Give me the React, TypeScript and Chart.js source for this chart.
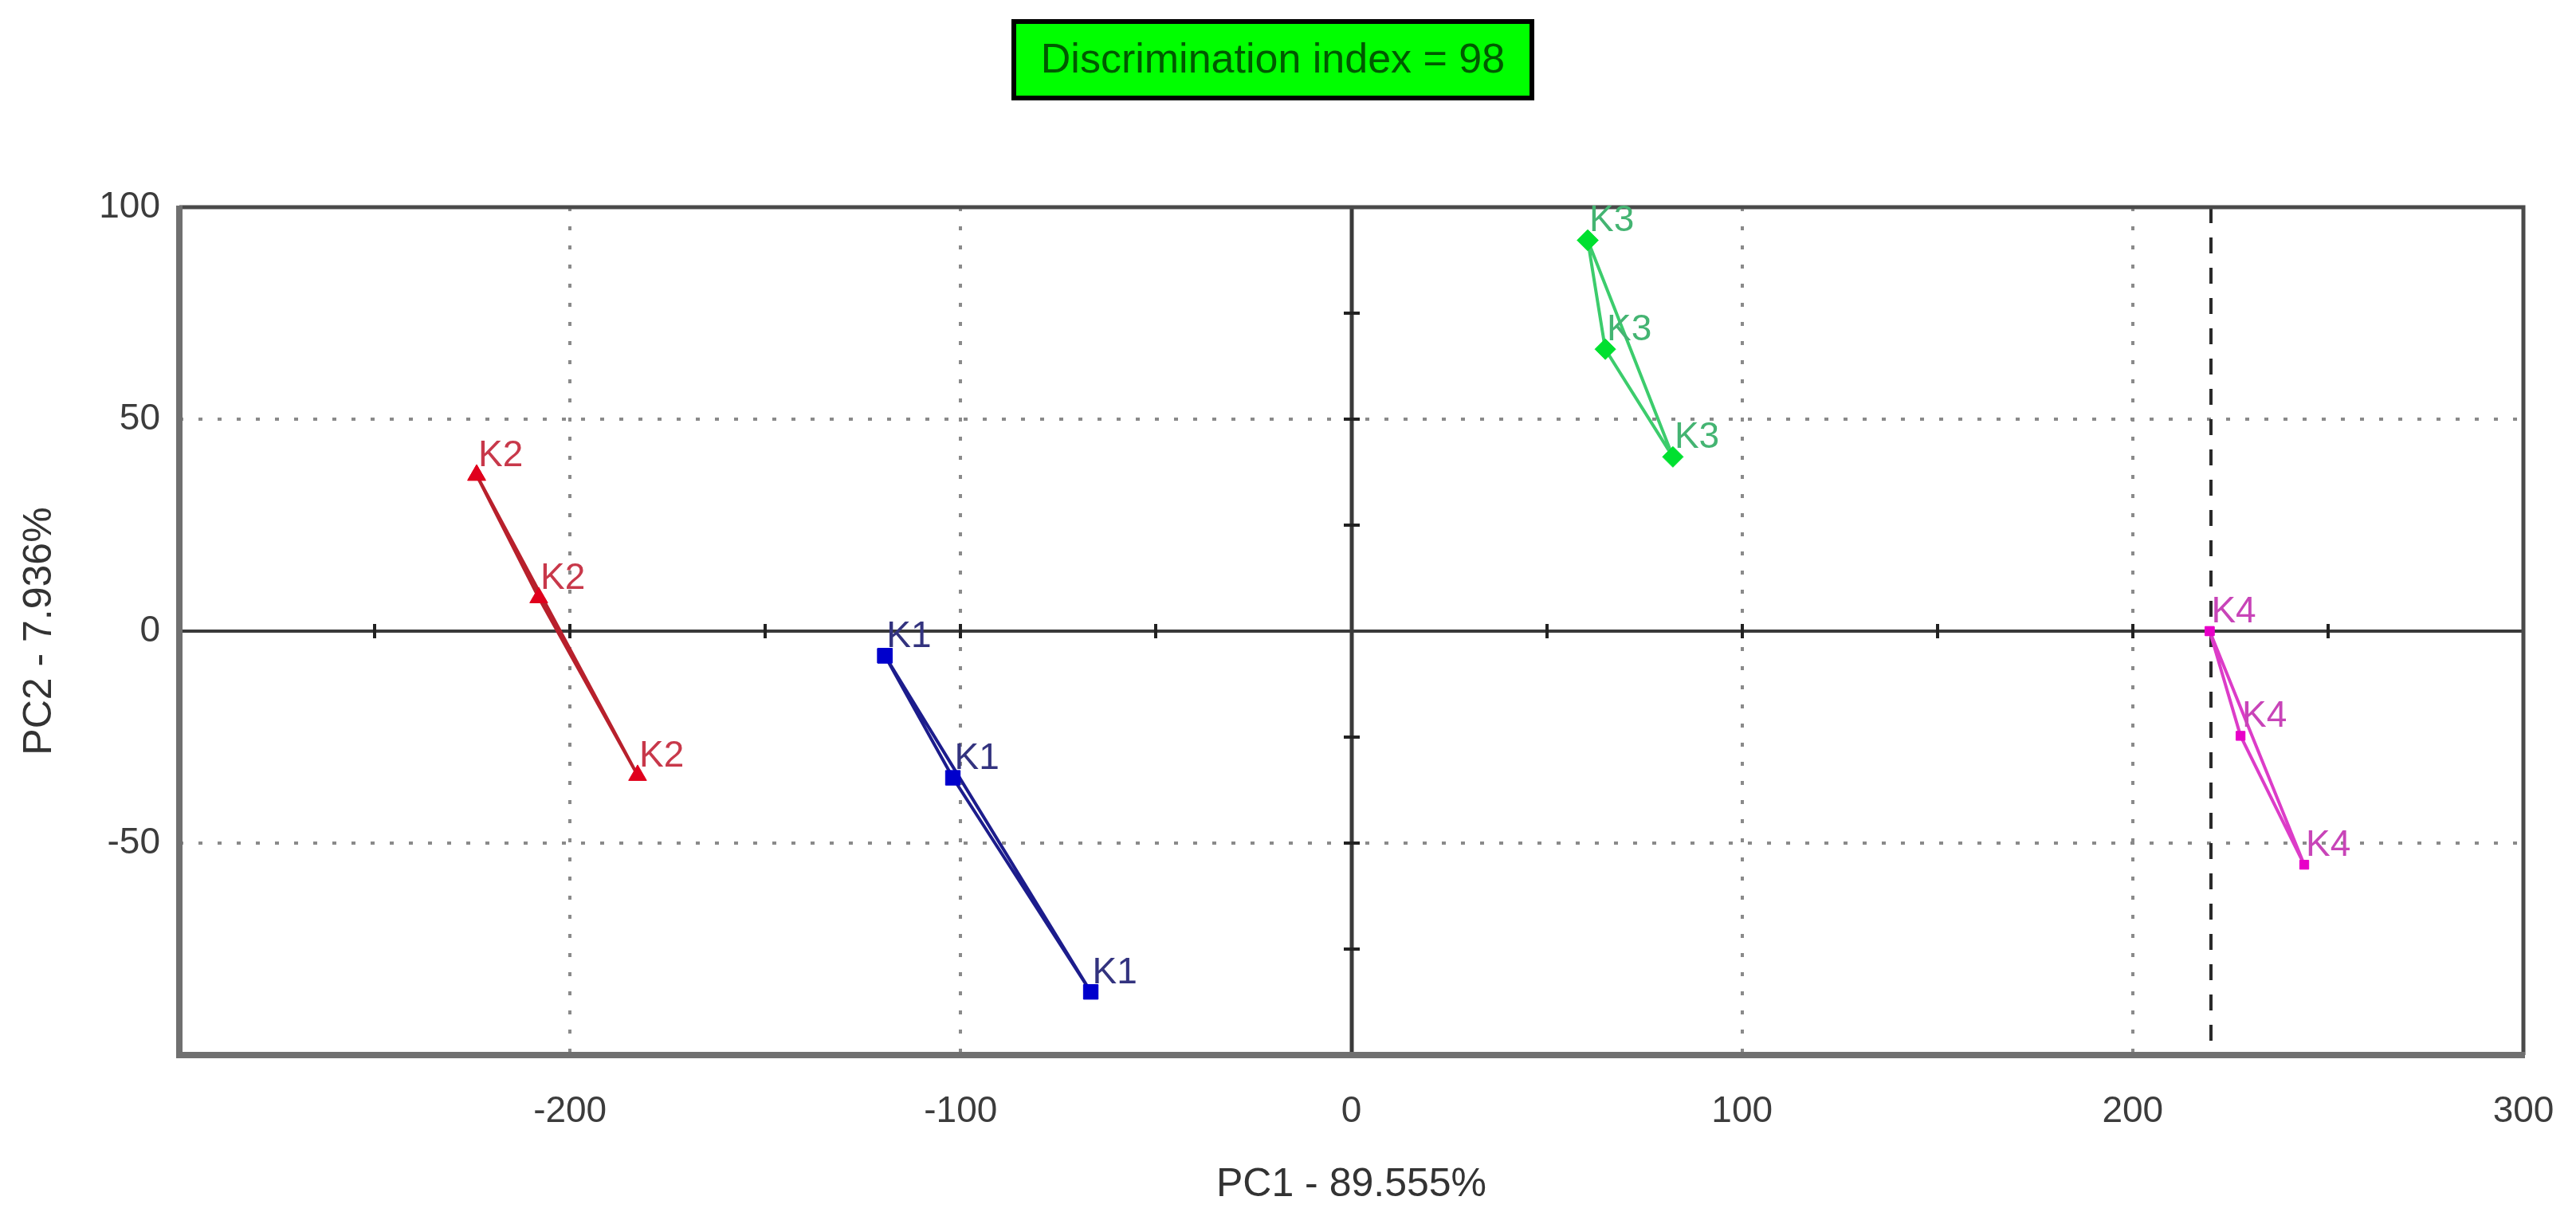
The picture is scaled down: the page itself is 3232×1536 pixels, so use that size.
import React, { useEffect, useRef } from 'react';
import { Chart, registerables } from 'chart.js';

Chart.register(...registerables);

// ---- text ----
const TITLE_TEXT = 'Discrimination index = 98';
const X_TITLE = 'PC1 - 89.555%';
const Y_TITLE = 'PC2 - 7.936%';

// ---- data (PC1, PC2 scores) ----
const groupNames = ['K1', 'K2', 'K3', 'K4'];
const k1X = [-119.4, -102.0, -66.7];
const k1Y = [-5.8, -34.6, -85.1];
const k2X = [-223.9, -208.0, -182.7];
const k2Y = [36.8, 7.9, -34.0];
const k3X = [60.5, 65.0, 82.3];
const k3Y = [92.2, 66.5, 41.1];
const k4X = [219.7, 227.6, 243.9];
const k4Y = [0.0, -24.7, -55.1];

// ---- axes ----
const xTicks = [-300, -200, -100, 0, 100, 200, 300];
const yTicks = [-100, -50, 0, 50, 100];
const xHiddenLabels = [-300];
const yHiddenLabels = [-100];
const xGrid = [-200, -100, 100, 200];
const yGrid = [-50, 50];
const refLineX = 220;
const xOriginMarks = [-250, -200, -150, -100, -50, 50, 100, 150, 200, 250];
const yOriginMarks = [-75, -50, -25, 25, 50, 75];

// ---- styles ----
const lineColors = ['#1c1c8c', '#b8202c', '#3ccc6c', '#dc3cc8'];
const pointColors = ['#0000cc', '#e0001c', '#00e030', '#e800c8'];
const labelColors = ['#33337f', '#c8384a', '#44b472', '#c844b8'];
const pointStyles = ['rect', 'triangle', 'rectRot', 'rect'];
const pointRadii = [13, 13, 13, 8];

const FONT = '"Liberation Sans", Arial, sans-serif';

export default function App() {
  const canvasRef = useRef<HTMLCanvasElement | null>(null);

  useEffect(() => {
    const canvas = canvasRef.current;
    if (!canvas) return;

    const xs = [k1X, k2X, k3X, k4X];
    const ys = [k1Y, k2Y, k3Y, k4Y];

    const datasets = groupNames.map((name, g) => {
      const pts = xs[g].map((x, i) => ({ x, y: ys[g][i] }));
      // closed polygon through the replicate points
      const closed = [...pts, pts[0]];
      return {
        label: name,
        data: closed,
        showLine: true,
        borderColor: lineColors[g],
        borderWidth: 4,
        backgroundColor: pointColors[g],
        pointBackgroundColor: pointColors[g],
        pointBorderColor: pointColors[g],
        pointBorderWidth: 1,
        pointStyle: pointStyles[g],
        pointRadius: pointRadii[g],
        pointHoverRadius: pointRadii[g],
        fill: false,
        tension: 0,
      };
    });

    const backgroundPlugin = {
      id: 'pcaBackground',
      beforeDatasetsDraw(chart: any) {
        const { ctx, chartArea, scales } = chart;
        const sx = scales.x;
        const sy = scales.y;
        const { left, right, top, bottom } = chartArea;
        ctx.save();
        // dotted grid
        ctx.strokeStyle = '#8a8a8a';
        ctx.lineWidth = 4;
        ctx.setLineDash([5, 19]);
        xGrid.forEach((v) => {
          const px = Math.round(sx.getPixelForValue(v));
          ctx.beginPath();
          ctx.moveTo(px, top);
          ctx.lineTo(px, bottom);
          ctx.stroke();
        });
        yGrid.forEach((v) => {
          const py = Math.round(sy.getPixelForValue(v));
          ctx.beginPath();
          ctx.moveTo(left, py);
          ctx.lineTo(right, py);
          ctx.stroke();
        });
        // reference dashed line
        ctx.strokeStyle = '#2a2a2a';
        ctx.lineWidth = 4;
        ctx.setLineDash([20, 18]);
        const rx = Math.round(sx.getPixelForValue(refLineX));
        ctx.beginPath();
        ctx.moveTo(rx, top);
        ctx.lineTo(rx, bottom);
        ctx.stroke();
        ctx.setLineDash([]);
        // origin axes
        const ox = Math.round(sx.getPixelForValue(0));
        const oy = Math.round(sy.getPixelForValue(0));
        ctx.strokeStyle = '#3a3a3a';
        ctx.lineWidth = 5;
        ctx.beginPath();
        ctx.moveTo(ox, top);
        ctx.lineTo(ox, bottom);
        ctx.stroke();
        ctx.lineWidth = 4;
        ctx.beginPath();
        ctx.moveTo(left, oy);
        ctx.lineTo(right, oy);
        ctx.stroke();
        // tick marks on origin axes
        ctx.strokeStyle = '#222';
        ctx.lineWidth = 4;
        xOriginMarks.forEach((v) => {
          const px = Math.round(sx.getPixelForValue(v));
          ctx.beginPath();
          ctx.moveTo(px, oy - 9);
          ctx.lineTo(px, oy + 9);
          ctx.stroke();
        });
        yOriginMarks.forEach((v) => {
          const py = Math.round(sy.getPixelForValue(v));
          ctx.beginPath();
          ctx.moveTo(ox - 10, py);
          ctx.lineTo(ox + 10, py);
          ctx.stroke();
        });
        // frame
        ctx.strokeStyle = '#4a4a4a';
        ctx.lineWidth = 5;
        ctx.beginPath();
        ctx.moveTo(left, top);
        ctx.lineTo(right, top);
        ctx.lineTo(right, bottom);
        ctx.stroke();
        ctx.strokeStyle = '#707070';
        ctx.lineWidth = 8;
        ctx.beginPath();
        ctx.moveTo(left, top - 2);
        ctx.lineTo(left, bottom);
        ctx.lineTo(right + 2, bottom);
        ctx.stroke();
        ctx.restore();
      },
      afterDatasetsDraw(chart: any) {
        const { ctx } = chart;
        ctx.save();
        ctx.font = `46px ${FONT}`;
        ctx.textAlign = 'left';
        ctx.textBaseline = 'alphabetic';
        groupNames.forEach((name, g) => {
          const meta = chart.getDatasetMeta(g);
          const n = xs[g].length;
          ctx.fillStyle = labelColors[g];
          for (let i = 0; i < n; i++) {
            const el = meta.data[i];
            ctx.fillText(name, el.x + 2, el.y - 11);
          }
        });
        ctx.restore();
      },
      afterDraw(chart: any) {
        const { ctx } = chart;
        ctx.save();
        const bx = 1272, by = 27, bw = 650, bh = 96;
        ctx.fillStyle = '#00ff00';
        ctx.fillRect(bx, by, bw, bh);
        ctx.strokeStyle = '#000000';
        ctx.lineWidth = 6;
        ctx.strokeRect(bx, by, bw, bh);
        ctx.fillStyle = '#005a00';
        ctx.font = `52px ${FONT}`;
        ctx.textAlign = 'center';
        ctx.textBaseline = 'middle';
        ctx.fillText(TITLE_TEXT, bx + bw / 2, by + bh / 2 + 2);
        ctx.restore();
      },
    };

    const chart = new Chart(canvas, {
      type: 'scatter',
      data: { datasets: datasets as any },
      options: {
        animation: false,
        responsive: true,
        maintainAspectRatio: false,
        layout: { padding: { top: 260, right: 66, left: 0, bottom: 0 } },
        plugins: {
          legend: { display: false },
          tooltip: { enabled: false },
          title: { display: false },
        },
        scales: {
          x: {
            type: 'linear',
            min: -300,
            max: 300,
            grid: { display: false, drawTicks: false },
            border: { display: false },
            afterBuildTicks: (scale: any) => {
              scale.ticks = xTicks.map((v) => ({ value: v }));
            },
            afterFit: (scale: any) => {
              scale.height = 212;
              scale.paddingLeft = 0;
              scale.paddingRight = 0;
            },
            ticks: {
              color: '#3c3c3c',
              font: { family: FONT, size: 46 },
              padding: 44,
              maxRotation: 0,
              autoSkip: false,
              callback: (v: any) => (xHiddenLabels.includes(Number(v)) ? '' : String(v)),
            },
            title: {
              display: true,
              text: X_TITLE,
              color: '#333333',
              font: { family: FONT, size: 50 },
              padding: { top: 19, bottom: 19 },
            },
          },
          y: {
            type: 'linear',
            min: -100,
            max: 100,
            grid: { display: false, drawTicks: false },
            border: { display: false },
            afterBuildTicks: (scale: any) => {
              scale.ticks = yTicks.map((v) => ({ value: v }));
            },
            afterFit: (scale: any) => {
              scale.width = 225;
              scale.paddingTop = 0;
              scale.paddingBottom = 0;
            },
            ticks: {
              color: '#3c3c3c',
              font: { family: FONT, size: 46 },
              padding: 24,
              autoSkip: false,
              callback: (v: any) => (yHiddenLabels.includes(Number(v)) ? '' : String(v)),
            },
            title: {
              display: true,
              text: Y_TITLE,
              color: '#333333',
              font: { family: FONT, size: 50 },
              padding: { top: 20, bottom: 20 },
            },
          },
        },
      },
      plugins: [backgroundPlugin],
    });

    return () => {
      chart.destroy();
    };
  }, []);

  return (
    <div
      style={{
        position: 'fixed',
        left: 0,
        top: 0,
        width: '3232px',
        height: '1536px',
        background: '#ffffff',
      }}
    >
      <canvas ref={canvasRef} />
    </div>
  );
}
